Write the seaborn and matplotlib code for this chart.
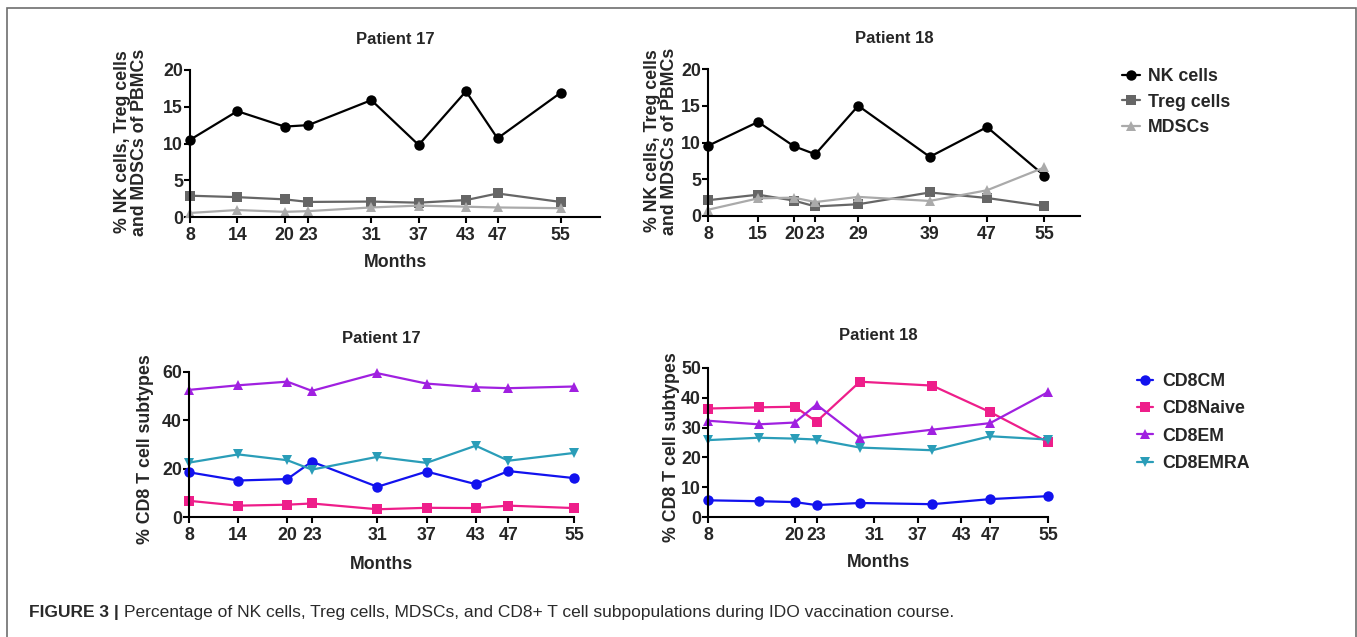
import matplotlib
matplotlib.use("Agg")
import matplotlib.pyplot as plt
import matplotlib.patches as mpatches
import seaborn as sns
import pandas as pd

# ---------------- data ----------------
p17_months = [8, 14, 20, 23, 31, 37, 43, 47, 55]
p17_nk = [10.5, 14.4, 12.3, 12.5, 15.9, 9.8, 17.1, 10.7, 16.9]
p17_treg = [2.9, 2.7, 2.4, 2.05, 2.1, 1.95, 2.3, 3.2, 2.05]
p17_mdsc = [0.55, 0.95, 0.7, 0.8, 1.3, 1.55, 1.4, 1.3, 1.2]

p18_months = [8, 15, 20, 23, 29, 39, 47, 55]
p18_nk = [9.55, 12.8, 9.5, 8.4, 15.0, 8.05, 12.1, 5.5]
p18_treg = [2.15, 2.9, 2.1, 1.3, 1.6, 3.2, 2.45, 1.35]
p18_mdsc = [0.85, 2.4, 2.5, 1.9, 2.6, 2.05, 3.5, 6.6]

p17_cm = [18.5, 15.1, 15.7, 22.9, 12.5, 18.8, 13.6, 19.0, 16.1]
p17_naive = [6.7, 4.7, 5.1, 5.6, 3.2, 3.8, 3.7, 4.7, 3.7]
p17_em = [52.6, 54.5, 56.0, 52.2, 59.5, 55.2, 53.7, 53.3, 54.0]
p17_emra = [22.5, 25.9, 23.5, 19.6, 24.9, 22.4, 29.5, 23.3, 26.5]

p18_cm = [5.6, 5.3, 5.0, 4.0, 4.7, 4.3, 6.0, 7.0]
p18_naive = [36.4, 36.8, 37.0, 32.0, 45.4, 44.1, 35.2, 25.1]
p18_em = [32.3, 31.1, 31.7, 37.7, 26.5, 29.3, 31.5, 41.9]
p18_emra = [25.8, 26.6, 26.3, 26.0, 23.3, 22.4, 27.1, 26.0]

p18_cd8_ticks = [8, 20, 23, 31, 37, 43, 47, 55]

immune_names = ["NK cells", "Treg cells", "MDSCs"]
cd8_names = ["CD8CM", "CD8Naive", "CD8EM", "CD8EMRA"]

caption_bold = "FIGURE 3 | "
caption_text = ("Percentage of NK cells, Treg cells, MDSCs, and CD8+ T cell "
                "subpopulations during IDO vaccination course.")

# ---------------- style ----------------
sns.set_theme(style="ticks")
plt.rcParams["font.family"] = ["Liberation Sans", "DejaVu Sans"]
plt.rcParams["font.weight"] = "bold"
plt.rcParams["axes.labelweight"] = "bold"
plt.rcParams["axes.titleweight"] = "bold"

immune_colors = ["#000000", "#666666", "#aaaaaa"]
immune_markers = ["o", "s", "^"]
cd8_colors = ["#1212ee", "#ee1e8a", "#a020e0", "#2a9db8"]
cd8_markers = ["o", "s", "^", "v"]

TICK_FS = 12.8
LABEL_FS = 12.8
TITLE_FS = 12
LEG_FS = 12.8

W, H = 1357, 637
fig = plt.figure(figsize=(W / 100, H / 100), dpi=100)


def px_axes(left, right, top, bottom):
    return fig.add_axes([left / W, 1 - bottom / H, (right - left) / W, (bottom - top) / H])


def draw(ax, months, series, names, colors, markers):
    for vals, name, c, m in zip(series, names, colors, markers):
        df = pd.DataFrame({"Months": months, "value": vals})
        sns.lineplot(data=df, x="Months", y="value", ax=ax, color=c, marker=m,
                     markersize=7.5 if m != "s" else 7, markeredgewidth=0,
                     linewidth=1.6, label=name, legend=False, clip_on=False,
                     sort=False)


def style(ax, xlim, xticks, ylim, yticks):
    ax.set_xlim(*xlim)
    ax.set_ylim(*ylim)
    ax.set_xticks(xticks)
    ax.set_yticks(yticks)
    for s in ["top", "right"]:
        ax.spines[s].set_visible(False)
    for s in ["left", "bottom"]:
        ax.spines[s].set_linewidth(1.5)
        ax.spines[s].set_color("black")
    ax.tick_params(axis="both", length=4, width=1.5, color="black",
                   labelsize=TICK_FS)
    ax.tick_params(axis="x", pad=3.5)
    ax.tick_params(axis="y", pad=1)
    for lab in ax.get_xticklabels() + ax.get_yticklabels():
        lab.set_fontweight("bold")
    ax.set_xlabel("")
    ax.set_ylabel("")


# top-left
ax1 = px_axes(190, 600, 70, 217)
draw(ax1, p17_months, [p17_nk, p17_treg, p17_mdsc], immune_names, immune_colors, immune_markers)
style(ax1, (8, 60), p17_months, (0, 20), [0, 5, 10, 15, 20])
ax1.set_title("Patient 17", fontsize=TITLE_FS, pad=19)
ax1.set_ylabel("% NK cells, Treg cells\nand MDSCs of PBMCs", fontsize=LABEL_FS, linespacing=1.0)
ax1.yaxis.set_label_coords(-0.103, 0.51)
ax1.set_xlabel("Months", fontsize=LABEL_FS)
ax1.xaxis.set_label_coords(0.5, -0.255)
ax1.xaxis.label.set_va("top")

# top-right
ax2 = px_axes(708, 1080, 69, 216)
draw(ax2, p18_months, [p18_nk, p18_treg, p18_mdsc], immune_names, immune_colors, immune_markers)
style(ax2, (8, 60), p18_months, (0, 20), [0, 5, 10, 15, 20])
ax2.set_title("Patient 18", fontsize=TITLE_FS, pad=19)
ax2.set_ylabel("% NK cells, Treg cells\nand MDSCs of PBMCs", fontsize=LABEL_FS, linespacing=1.0)
ax2.yaxis.set_label_coords(-0.081, 0.51)
ax2.legend(loc="upper left", bbox_to_anchor=(1122 / W, 1 - 68 / H),
           bbox_transform=fig.transFigure, frameon=False,
           handlelength=1.0, handletextpad=0.45, labelspacing=0.48,
           borderpad=0, borderaxespad=0, prop={"weight": "bold", "size": LEG_FS})

# bottom-left
ax3 = px_axes(189, 574, 372, 517)
draw(ax3, p17_months, [p17_cm, p17_naive, p17_em, p17_emra], cd8_names, cd8_colors, cd8_markers)
style(ax3, (8, 55), p17_months, (0, 60), [0, 20, 40, 60])
ax3.set_title("Patient 17", fontsize=TITLE_FS, pad=21)
ax3.set_ylabel("% CD8 T cell subtypes", fontsize=LABEL_FS)
ax3.yaxis.set_label_coords(-0.091, 0.47)
ax3.set_xlabel("Months", fontsize=LABEL_FS)
ax3.xaxis.set_label_coords(0.5, -0.27)
ax3.xaxis.label.set_va("top")

# bottom-right
ax4 = px_axes(708, 1048, 368, 517)
draw(ax4, p18_months, [p18_cm, p18_naive, p18_em, p18_emra], cd8_names, cd8_colors, cd8_markers)
style(ax4, (8, 55), p18_cd8_ticks, (0, 50), [0, 10, 20, 30, 40, 50])
ax4.set_title("Patient 18", fontsize=TITLE_FS, pad=20)
ax4.set_ylabel("% CD8 T cell subtypes", fontsize=LABEL_FS)
ax4.yaxis.set_label_coords(-0.082, 0.47)
ax4.set_xlabel("Months", fontsize=LABEL_FS)
ax4.xaxis.set_label_coords(0.5, -0.25)
ax4.xaxis.label.set_va("top")
ax4.legend(loc="upper left", bbox_to_anchor=(1137 / W, 1 - 373 / H),
           bbox_transform=fig.transFigure, frameon=False,
           handlelength=0.9, handletextpad=0.5, labelspacing=0.58,
           borderpad=0, borderaxespad=0, prop={"weight": "bold", "size": LEG_FS})

# border
fig.patches.append(mpatches.Rectangle((7 / W, -0.05), (1356 - 7) / W, 1.05 - 8 / H,
                                      transform=fig.transFigure, fill=False,
                                      edgecolor="#6e6e6e", linewidth=1.2))

# caption
t1 = fig.text(29 / W, 1 - 613 / H, caption_bold, fontsize=12.5, fontweight="bold",
              color="#2a2a2a", va="center", ha="left")
fig.canvas.draw()
bb = t1.get_window_extent(renderer=fig.canvas.get_renderer())
fig.text(bb.x1 / W, 1 - 613 / H, caption_text, fontsize=12.5, fontweight="normal",
         color="#2a2a2a", va="center", ha="left")

fig.savefig("out.png", dpi=100)
